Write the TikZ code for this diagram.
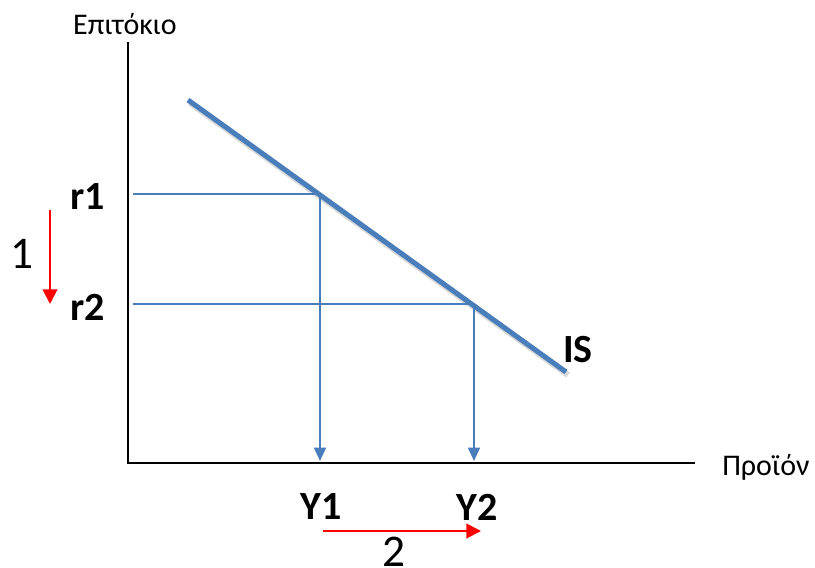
\documentclass[tikz,border=0pt]{standalone}
\usepackage{fontspec}
\setmainfont{Carlito}
\usetikzlibrary{arrows.meta,positioning}
\definecolor{isblue}{RGB}{74,126,187}
\tikzset{
  axisline/.style={line width=1.1pt,black},
  isline/.style={line width=3.8pt,isblue},
  isshadow/.style={line width=4.5pt,black,opacity=.15},
  guide/.style={line width=1.1pt,isblue},
  guidearr/.style={guide,-{Triangle[length=10pt,width=9pt]}},
  shiftarr/.style={line width=1.5pt,red,-{Triangle[length=11pt,width=11pt]}},
  axlabel/.style={font=\fontsize{22.5}{26}\selectfont,inner sep=0pt},
  varlabel/.style={font=\bfseries\fontsize{30}{34}\selectfont,inner sep=0pt},
  steplabel/.style={font=\fontsize{34}{40}\selectfont,inner sep=0pt}
}

\begin{document}
\begin{tikzpicture}[x=0.75pt,y=-0.75pt]
  \useasboundingbox (0,0) rectangle (815,568);
  % axes
  \coordinate (O) at (128,463);
  \coordinate (ytop) at (128,42);
  \coordinate (xend) at (695,463);
  \draw[axisline] (ytop) -- (O) -- (xend);
  \node[axlabel] (ylab) at (125,24) {Επιτόκιο};
  \node[axlabel,anchor=west] (xlab) at (722,467) {Προϊόν};

  % IS curve
  \coordinate (ISa) at (188,100); \coordinate (ISb) at (566,372);
  \draw[isshadow] ([shift={(2,3)}]ISa) -- ([shift={(2,3)}]ISb);
  \draw[isline] (ISa) -- (ISb);
  \node[varlabel] (IS) at (578,350) {IS};

  % rates and output
  \coordinate (E1) at (320,194); \coordinate (E2) at (474,304);
  \coordinate (r1s) at (133,194); \coordinate (r2s) at (133,304);
  \coordinate (Y1s) at (320,461); \coordinate (Y2s) at (474,461);
  \node[varlabel] (r1) at (88,197) {r1};
  \node[varlabel] (r2) at (88,307) {r2};
  \node[varlabel] (Y1) at (321,507) {Y1};
  \node[varlabel] (Y2) at (477,507) {Y2};
  \draw[guide] (r1s) -- (E1);
  \draw[guide] (r2s) -- (E2);
  \draw[guidearr] (E1) -- (Y1s);
  \draw[guidearr] (E2) -- (Y2s);

  % steps
  \coordinate (a1s) at (50,210); \coordinate (a1e) at (50,304);
  \coordinate (a2s) at (323,531); \coordinate (a2e) at (481,531);
  \draw[shiftarr] (a1s) -- (a1e);
  \draw[shiftarr] (a2s) -- (a2e);
  \node[steplabel] (s1) at (22,254) {1};
  \node[steplabel] (s2) at (394,552) {2};
\end{tikzpicture}
\end{document}
